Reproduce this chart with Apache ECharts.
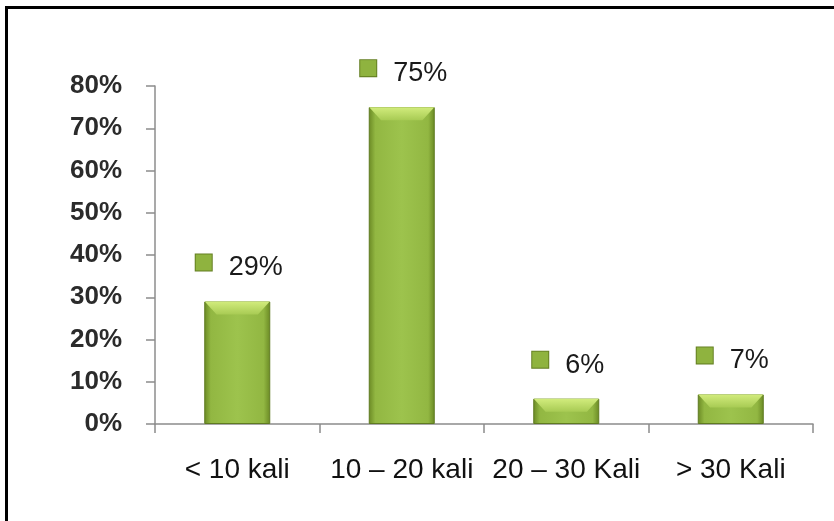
<!DOCTYPE html>
<html>
<head>
<meta charset="utf-8">
<script src="https://cdn.jsdelivr.net/npm/echarts@6/dist/echarts.min.js"></script>
<style>
  html, body { margin: 0; padding: 0; background: #fff; overflow: hidden; }
  #frame { position: absolute; left: 5px; top: 6px; width: 900px; height: 600px; border: 3px solid #000; }
  #chart { position: absolute; left: 0; top: 0; width: 834px; height: 521px; }
</style>
</head>
<body>
<div id="frame"></div>
<div id="chart"></div>
<script>
// data
var categories = ['< 10 kali', '10 – 20 kali', '20 – 30 Kali', '> 30 Kali'];
var values = [29, 75, 6, 7];
var yTicks = [0, 10, 20, 30, 40, 50, 60, 70, 80];

var barFill = new echarts.graphic.LinearGradient(0, 0, 1, 0, [
    {offset: 0, color: '#6a8924'},
    {offset: 0.1, color: '#92b742'},
    {offset: 0.5, color: '#9dc34d'},
    {offset: 0.9, color: '#92b742'},
    {offset: 1, color: '#6a8924'}
]);
var bevelFill = new echarts.graphic.LinearGradient(0, 0, 0, 1, [
    {offset: 0, color: '#d2ec7d'},
    {offset: 1, color: '#a8cb54'}
]);

var option = {
    animation: false,
    grid: {left: 155, right: 21, top: 86, bottom: 97},
    xAxis: {
        type: 'category',
        data: categories,
        axisLine: {lineStyle: {color: '#8c8c8c', width: 1.5}},
        axisTick: {show: true, length: 9, lineStyle: {color: '#8c8c8c', width: 1.5}},
        axisLabel: {
            interval: 0,
            margin: 32,
            color: '#111',
            fontFamily: 'Liberation Sans, sans-serif',
            fontSize: 28
        }
    },
    yAxis: {
        type: 'value',
        min: yTicks[0],
        max: yTicks[yTicks.length - 1],
        interval: 10,
        splitLine: {show: false},
        axisLine: {show: true, lineStyle: {color: '#8c8c8c', width: 1.5}},
        axisTick: {show: true, length: 9, lineStyle: {color: '#8c8c8c', width: 1.5}},
        axisLabel: {
            margin: 33,
            color: '#2b2b2b',
            fontWeight: 'bold',
            fontFamily: 'Liberation Sans, sans-serif',
            fontSize: 26,
            formatter: function (v) { return v + '%'; }
        }
    },
    series: [{
        type: 'bar',
        data: values,
        barWidth: 66,
        itemStyle: {
            color: barFill,
            borderColor: '#5f7b20',
            borderWidth: 1
        },
        label: {
            show: true,
            position: 'top',
            distance: 20,
            offset: [2, 0],
            formatter: function (p) { return '{m|}{v|' + p.value + '%}'; },
            rich: {
                m: {
                    width: 16, height: 16,
                    backgroundColor: '#8fb33f',
                    borderColor: '#647f22',
                    borderWidth: 1,
                    verticalAlign: 'top'
                },
                v: {
                    fontSize: 27,
                    color: '#1a1a1a',
                    fontFamily: 'Liberation Sans, sans-serif',
                    padding: [0, 0, 0, 17]
                }
            }
        }
    }, {
        // lighter top bevel of each bar
        type: 'pictorialBar',
        data: values,
        symbol: 'path://M0,0 L66,0 L54,13 L12,13 Z',
        symbolSize: [65, 13],
        symbolPosition: 'end',
        itemStyle: {color: bevelFill},
        z: 3,
        silent: true
    }]
};

var myChart = echarts.init(document.getElementById('chart'));
myChart.setOption(option);
</script>
</body>
</html>
